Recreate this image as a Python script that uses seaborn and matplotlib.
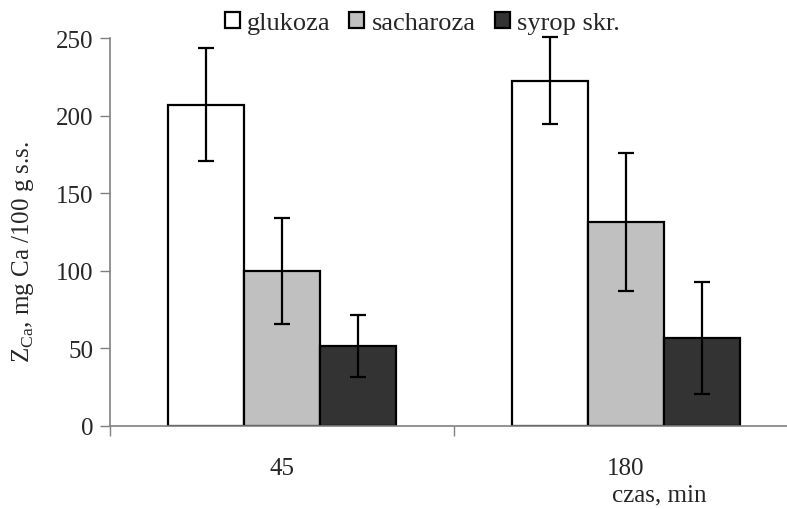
import matplotlib
matplotlib.use("Agg")
import matplotlib.pyplot as plt
import seaborn as sns
import pandas as pd
import numpy as np

# Calcium content by sweetener and processing time
times = ["45", "180"]
sweeteners = ["glukoza", "sacharoza", "syrop skr."]
means_45 = [207, 100, 51.5]
means_180 = [222.5, 131.5, 56.5]
err_45 = [36.5, 34, 20]
err_180 = [28, 44.5, 36]
yticks = [0, 50, 100, 150, 200, 250]

colors = ["#FFFFFF", "#C0C0C0", "#333333"]

df = pd.DataFrame({
    "czas": [t for t in times for _ in sweeteners],
    "cukier": sweeteners * len(times),
    "Z": means_45 + means_180,
    "err": err_45 + err_180,
})

sns.set_theme(style="white")
plt.rcParams["font.family"] = ["Liberation Serif", "DejaVu Serif"]
plt.rcParams["mathtext.fontset"] = "custom"
plt.rcParams["mathtext.rm"] = "Liberation Serif"

FS = 18
fig = plt.figure(figsize=(7.87, 5.10), dpi=100)
W, H = 787, 510
ax = fig.add_axes([110 / W, (H - 427) / H, 688 / W, (427 - 39) / H])

sns.barplot(data=df, x="czas", y="Z", hue="cukier", order=times,
            hue_order=sweeteners, palette=colors, width=0.663,
            errorbar=None, edgecolor="black", linewidth=1.6,
            saturation=1, ax=ax, legend=True)

# error bars at the centre of each drawn bar
bars = [p for p in ax.patches if p.get_height() > 0]
for p in bars:
    xc = p.get_x() + p.get_width() / 2
    h = p.get_height()
    row = df.loc[np.isclose(df["Z"], h)].iloc[0]
    _, caps, lines = ax.errorbar(xc, h, yerr=row["err"], fmt="none",
                                 ecolor="black", elinewidth=1.6, capsize=5.8,
                                 capthick=1.6, zorder=5)
    for art in list(caps) + list(lines):
        art.set_clip_on(False)

ax.set_ylim(0, 250)
ax.set_xlim(-0.5, 1.5)
ax.set_yticks(yticks)
ax.set_yticklabels([str(v) for v in yticks], fontsize=FS)
ax.set_xticks([-0.5, 0.5, 1.5])
ax.set_xticklabels([])
ax.tick_params(axis="y", direction="out", length=7, width=1, color="#808080",
               left=True, pad=5)
ax.tick_params(axis="x", direction="out", length=7, width=1, color="#808080",
               bottom=True)
for i, t in enumerate(times):
    ax.text(i, -0.08, t, transform=ax.get_xaxis_transform(),
            ha="center", va="top", fontsize=FS)

for s in ["top", "right"]:
    ax.spines[s].set_visible(False)
for s in ["left", "bottom"]:
    ax.spines[s].set_color("#808080")
    ax.spines[s].set_linewidth(1.2)

ax.set_xlabel("")
ax.set_ylabel(r"Z$_{\rm Ca}$, mg Ca /100 g s.s.", fontsize=FS)
ax.yaxis.set_label_coords(-0.108, 0.452)
fig.text(612 / W, 1 - 495 / H, "czas, min", fontsize=FS, ha="left",
         va="center")

leg = ax.legend(loc="upper left", bbox_to_anchor=(214 / W, 1 - 2 / H),
                bbox_transform=fig.transFigure, ncol=3, frameon=False,
                fontsize=19, handlelength=0.57, handleheight=0.57,
                handletextpad=0.27, columnspacing=0.72, borderaxespad=0)

fig.savefig("out.png", dpi=100)
